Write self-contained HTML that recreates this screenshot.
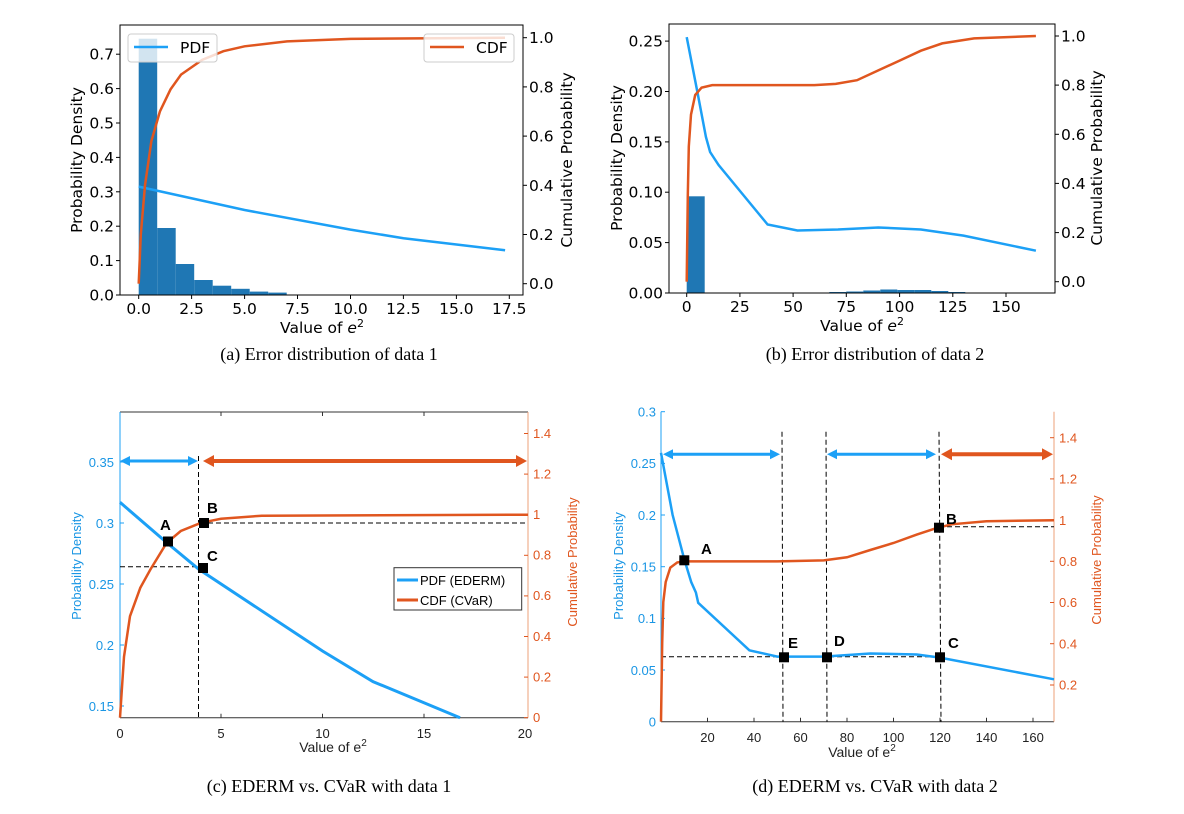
<!DOCTYPE html>
<html><head><meta charset="utf-8"><style>
body{margin:0;background:#fff;width:1184px;height:814px;overflow:hidden}
svg{position:absolute;left:0;top:0}
.m{font-family:"DejaVu Sans",sans-serif;font-size:15.5px;fill:#000}
.ml{font-family:"Liberation Sans",sans-serif;font-size:13px}
.cap{font-family:"Liberation Serif",serif;font-size:18px;fill:#000}
.lb{font-family:"Liberation Sans",sans-serif;font-size:15px;font-weight:bold;fill:#000}
</style></head><body>
<svg width="1184" height="814" viewBox="0 0 1184 814">
<!-- Panel a -->
<g fill="#1f77b4">
<rect x="138.7" y="38.7" width="18.5" height="256.3"/>
<rect x="157.2" y="228" width="18.5" height="67"/>
<rect x="175.7" y="264" width="18.5" height="31"/>
<rect x="194.2" y="280" width="18.5" height="15"/>
<rect x="212.7" y="285.7" width="18.5" height="9.3"/>
<rect x="231.2" y="288.8" width="18.5" height="6.2"/>
<rect x="249.7" y="291.6" width="18.5" height="3.4"/>
<rect x="268.2" y="292.6" width="18.5" height="2.4"/>
</g>
<polyline fill="none" stroke="#1ca0f6" stroke-width="2.5" points="138.7,186.6 244.6,210 350.5,229.6 403.5,238.2 505.1,250.3"/>
<polyline fill="none" stroke="#e0561f" stroke-width="2.5" points="138.7,283.7 140.8,234.5 145,185.3 151.4,141 159.9,111.5 170.5,89.4 181,74.6 202.2,59.8 223.4,51.2 244.6,46.3 287,41.4 350.5,38.9 505,37.7"/>
<rect x="128" y="34" width="89" height="28" rx="3" fill="#fff" fill-opacity="0.8" stroke="#ccc"/>
<line x1="134" y1="47" x2="168" y2="47" stroke="#1ca0f6" stroke-width="2.5"/>
<text class="m" x="180" y="53">PDF</text>
<rect x="424" y="34" width="90" height="28" rx="3" fill="#fff" fill-opacity="0.8" stroke="#ccc"/>
<line x1="430" y1="47" x2="464" y2="47" stroke="#e0561f" stroke-width="2.5"/>
<text class="m" x="476" y="53">CDF</text>
<rect x="120" y="25" width="403" height="270" fill="none" stroke="#000" stroke-width="1"/>
<g stroke="#000"><line x1="116" y1="295" x2="120" y2="295"/><line x1="116" y1="260.6" x2="120" y2="260.6"/><line x1="116" y1="226.2" x2="120" y2="226.2"/><line x1="116" y1="191.8" x2="120" y2="191.8"/><line x1="116" y1="157.4" x2="120" y2="157.4"/><line x1="116" y1="123" x2="120" y2="123"/><line x1="116" y1="88.6" x2="120" y2="88.6"/><line x1="116" y1="54.2" x2="120" y2="54.2"/>
<line x1="523" y1="283.7" x2="527" y2="283.7"/><line x1="523" y1="234.5" x2="527" y2="234.5"/><line x1="523" y1="185.3" x2="527" y2="185.3"/><line x1="523" y1="136.1" x2="527" y2="136.1"/><line x1="523" y1="86.9" x2="527" y2="86.9"/><line x1="523" y1="37.7" x2="527" y2="37.7"/></g>
<g class="m" text-anchor="end"><text x="114" y="300.5">0.0</text><text x="114" y="266">0.1</text><text x="114" y="231.7">0.2</text><text x="114" y="197.3">0.3</text><text x="114" y="163">0.4</text><text x="114" y="128.5">0.5</text><text x="114" y="94">0.6</text><text x="114" y="59.7">0.7</text></g>
<g class="m"><text x="529" y="289.2">0.0</text><text x="529" y="240">0.2</text><text x="529" y="190.8">0.4</text><text x="529" y="141.6">0.6</text><text x="529" y="92.4">0.8</text><text x="529" y="43.2">1.0</text></g>
<g stroke="#000"><line x1="138.7" y1="295" x2="138.7" y2="299"/><line x1="191.6" y1="295" x2="191.6" y2="299"/><line x1="244.6" y1="295" x2="244.6" y2="299"/><line x1="297.5" y1="295" x2="297.5" y2="299"/><line x1="350.5" y1="295" x2="350.5" y2="299"/><line x1="403.4" y1="295" x2="403.4" y2="299"/><line x1="456.4" y1="295" x2="456.4" y2="299"/><line x1="509.3" y1="295" x2="509.3" y2="299"/></g>
<g class="m" text-anchor="middle"><text x="138.7" y="314">0.0</text><text x="191.6" y="314">2.5</text><text x="244.6" y="314">5.0</text><text x="297.5" y="314">7.5</text><text x="350.5" y="314">10.0</text><text x="403.4" y="314">12.5</text><text x="456.4" y="314">15.0</text><text x="509.3" y="314">17.5</text>
<text x="322" y="333">Value of <tspan font-style="italic">e</tspan><tspan font-size="11" dy="-6">2</tspan></text></g>
<text class="m" text-anchor="middle" transform="translate(82,160) rotate(-90)">Probability Density</text>
<text class="m" text-anchor="middle" transform="translate(572,160) rotate(-90)">Cumulative Probability</text>
<text class="cap" x="329" y="360" text-anchor="middle">(a)  Error distribution of data 1</text>

<!-- Panel b -->
<g fill="#1f77b4">
<rect x="686.7" y="196.3" width="18" height="96.7"/>
<rect x="829.3" y="292" width="17" height="1"/><rect x="846.3" y="291.5" width="17" height="1.5"/><rect x="863.3" y="290.5" width="17" height="2.5"/><rect x="880.3" y="289.5" width="17" height="3.5"/><rect x="897.3" y="290" width="17" height="3"/><rect x="914.3" y="290" width="17" height="3"/><rect x="931.3" y="291" width="17" height="2"/><rect x="948.3" y="292" width="17" height="1"/>
</g>
<polyline fill="none" stroke="#1ca0f6" stroke-width="2.5" points="686.7,37.1 697.3,91.5 705.9,136.8 710.1,152 718.6,165 767.6,224.5 797.4,230.5 838,229.5 878.3,227.5 920.9,229.5 963.5,235.6 1035.9,250.7"/>
<polyline fill="none" stroke="#e0561f" stroke-width="2.5" points="686.7,281.7 687.8,195.7 688.8,146.6 691,114.6 695.2,95 701.6,87.6 712.2,85.1 814.4,85.1 835.7,83.9 857,80.2 878.3,70.4 899.6,60.6 920.9,50.7 942.2,43.4 974.1,38.4 1035.9,36"/>
<rect x="669" y="24" width="386" height="269" fill="none" stroke="#000"/>
<g stroke="#000"><line x1="665" y1="293" x2="669" y2="293"/><line x1="665" y1="242.6" x2="669" y2="242.6"/><line x1="665" y1="192.2" x2="669" y2="192.2"/><line x1="665" y1="141.9" x2="669" y2="141.9"/><line x1="665" y1="91.5" x2="669" y2="91.5"/><line x1="665" y1="41.1" x2="669" y2="41.1"/>
<line x1="1055" y1="281.7" x2="1059" y2="281.7"/><line x1="1055" y1="232.6" x2="1059" y2="232.6"/><line x1="1055" y1="183.4" x2="1059" y2="183.4"/><line x1="1055" y1="134.3" x2="1059" y2="134.3"/><line x1="1055" y1="85.1" x2="1059" y2="85.1"/><line x1="1055" y1="36" x2="1059" y2="36"/>
<line x1="686.7" y1="293" x2="686.7" y2="297"/><line x1="739.9" y1="293" x2="739.9" y2="297"/><line x1="793.1" y1="293" x2="793.1" y2="297"/><line x1="846.3" y1="293" x2="846.3" y2="297"/><line x1="899.6" y1="293" x2="899.6" y2="297"/><line x1="952.8" y1="293" x2="952.8" y2="297"/><line x1="1006" y1="293" x2="1006" y2="297"/></g>
<g class="m" text-anchor="end"><text x="663" y="298.5">0.00</text><text x="663" y="248">0.05</text><text x="663" y="197.7">0.10</text><text x="663" y="147.4">0.15</text><text x="663" y="97">0.20</text><text x="663" y="46.6">0.25</text></g>
<g class="m"><text x="1061" y="287.2">0.0</text><text x="1061" y="238">0.2</text><text x="1061" y="188.9">0.4</text><text x="1061" y="139.8">0.6</text><text x="1061" y="90.6">0.8</text><text x="1061" y="41.5">1.0</text></g>
<g class="m" text-anchor="middle"><text x="686.7" y="312">0</text><text x="739.9" y="312">25</text><text x="793.1" y="312">50</text><text x="846.3" y="312">75</text><text x="899.6" y="312">100</text><text x="952.8" y="312">125</text><text x="1006" y="312">150</text>
<text x="862" y="331">Value of <tspan font-style="italic">e</tspan><tspan font-size="11" dy="-6">2</tspan></text></g>
<text class="m" text-anchor="middle" transform="translate(622,158) rotate(-90)">Probability Density</text>
<text class="m" text-anchor="middle" transform="translate(1102,158) rotate(-90)">Cumulative Probability</text>
<text class="cap" x="875" y="360" text-anchor="middle">(b)  Error distribution of data 2</text>

<!-- Panel c -->
<line x1="120" y1="412" x2="528" y2="412" stroke="#333" stroke-width="1"/>
<line x1="120" y1="717.7" x2="528" y2="717.7" stroke="#333" stroke-width="1"/>
<line x1="120" y1="412" x2="120" y2="717.7" stroke="#1ca0f6" stroke-width="1"/>
<line x1="528" y1="412" x2="528" y2="717.7" stroke="#eea07a" stroke-width="1"/>
<g stroke="#333"><line x1="221" y1="412" x2="221" y2="416"/><line x1="322.5" y1="412" x2="322.5" y2="416"/><line x1="424" y1="412" x2="424" y2="416"/><line x1="221" y1="717.7" x2="221" y2="713.7"/><line x1="322.5" y1="717.7" x2="322.5" y2="713.7"/><line x1="424" y1="717.7" x2="424" y2="713.7"/></g>
<g stroke="#1ca0f6"><line x1="120" y1="462" x2="124" y2="462"/><line x1="120" y1="523" x2="124" y2="523"/><line x1="120" y1="584" x2="124" y2="584"/><line x1="120" y1="645" x2="124" y2="645"/><line x1="120" y1="706" x2="124" y2="706"/></g>
<g stroke="#e0561f"><line x1="524" y1="717.7" x2="528" y2="717.7"/><line x1="524" y1="677.1" x2="528" y2="677.1"/><line x1="524" y1="636.5" x2="528" y2="636.5"/><line x1="524" y1="595.9" x2="528" y2="595.9"/><line x1="524" y1="555.3" x2="528" y2="555.3"/><line x1="524" y1="514.7" x2="528" y2="514.7"/><line x1="524" y1="474.1" x2="528" y2="474.1"/><line x1="524" y1="433.5" x2="528" y2="433.5"/></g>
<g class="ml" fill="#1a96e4" text-anchor="end"><text x="114" y="467">0.35</text><text x="114" y="528">0.3</text><text x="114" y="589">0.25</text><text x="114" y="650">0.2</text><text x="114" y="711">0.15</text></g>
<g class="ml" fill="#e0561f"><text x="533" y="722">0</text><text x="533" y="681.5">0.2</text><text x="533" y="641">0.4</text><text x="533" y="600">0.6</text><text x="533" y="559.5">0.8</text><text x="533" y="519">1</text><text x="533" y="478.5">1.2</text><text x="533" y="438">1.4</text></g>
<g class="ml" fill="#222" text-anchor="middle"><text x="120" y="738">0</text><text x="221" y="738">5</text><text x="322.5" y="738">10</text><text x="424" y="738">15</text><text x="525" y="738">20</text>
<text x="333" y="752" font-size="14">Value of e<tspan font-size="10" dy="-6">2</tspan></text></g>
<text class="ml" fill="#1a96e4" font-size="14" text-anchor="middle" transform="translate(81,566) rotate(-90)">Probability Density</text>
<text class="ml" fill="#e0561f" font-size="14" text-anchor="middle" transform="translate(577,562) rotate(-90)">Cumulative Probability</text>
<g stroke="#000" stroke-dasharray="5,3" stroke-width="1"><line x1="198.5" y1="456" x2="198.5" y2="717"/><line x1="120" y1="566.7" x2="199" y2="566.7"/><line x1="200" y1="523" x2="528" y2="523"/></g>
<polyline fill="none" stroke="#1ca0f6" stroke-width="3" points="120,502.3 166.6,542.5 199,569.4 322.5,651 373,681.6 460,717.7"/>
<polyline fill="none" stroke="#e0561f" stroke-width="2.5" points="120,717.7 124,656.8 130,616.2 140.3,587.8 150.4,569.5 166.6,543 180.8,531 201,522.8 221,518.8 261.8,515.7 528,514.7"/>
<line x1="126" y1="461" x2="192" y2="461" stroke="#1ca0f6" stroke-width="3"/>
<polygon points="120,461 130,456 130,466" fill="#1ca0f6"/><polygon points="198,461 188,456 188,466" fill="#1ca0f6"/>
<line x1="210" y1="461" x2="520" y2="461" stroke="#e0561f" stroke-width="4"/>
<polygon points="203,461 214,455 214,467" fill="#e0561f"/><polygon points="527,461 516,455 516,467" fill="#e0561f"/>
<g fill="#000"><rect x="163" y="536.5" width="10" height="10"/><rect x="199" y="518" width="10" height="10"/><rect x="198" y="563" width="10" height="10"/></g>
<text class="lb" x="160" y="530">A</text><text class="lb" x="207" y="513">B</text><text class="lb" x="207" y="561">C</text>
<rect x="394" y="567.7" width="127.7" height="42.3" fill="#fff" stroke="#333"/>
<line x1="397" y1="580" x2="418" y2="580" stroke="#1ca0f6" stroke-width="3"/>
<line x1="397" y1="600" x2="418" y2="600" stroke="#e0561f" stroke-width="3"/>
<g class="ml" font-size="14" fill="#000"><text x="420" y="585">PDF (EDERM)</text><text x="420" y="605">CDF (CVaR)</text></g>
<text class="cap" x="329" y="792" text-anchor="middle">(c)  EDERM vs. CVaR with data 1</text>

<!-- Panel d -->
<line x1="661" y1="721.7" x2="1054" y2="721.7" stroke="#333"/>
<line x1="661" y1="411.7" x2="661" y2="721.7" stroke="#1ca0f6"/>
<line x1="1054" y1="411.7" x2="1054" y2="721.7" stroke="#eea07a"/>
<g stroke="#333"><line x1="707.5" y1="721.7" x2="707.5" y2="717.7"/><line x1="754" y1="721.7" x2="754" y2="717.7"/><line x1="800.5" y1="721.7" x2="800.5" y2="717.7"/><line x1="847" y1="721.7" x2="847" y2="717.7"/><line x1="893.5" y1="721.7" x2="893.5" y2="717.7"/><line x1="940" y1="721.7" x2="940" y2="717.7"/><line x1="986.5" y1="721.7" x2="986.5" y2="717.7"/><line x1="1033" y1="721.7" x2="1033" y2="717.7"/></g>
<g stroke="#1ca0f6"><line x1="661" y1="411.7" x2="665" y2="411.7"/><line x1="661" y1="463.4" x2="665" y2="463.4"/><line x1="661" y1="515" x2="665" y2="515"/><line x1="661" y1="566.7" x2="665" y2="566.7"/><line x1="661" y1="618.4" x2="665" y2="618.4"/><line x1="661" y1="670" x2="665" y2="670"/></g>
<g stroke="#e0561f"><line x1="1050" y1="437.7" x2="1054" y2="437.7"/><line x1="1050" y1="478.9" x2="1054" y2="478.9"/><line x1="1050" y1="520.1" x2="1054" y2="520.1"/><line x1="1050" y1="561.3" x2="1054" y2="561.3"/><line x1="1050" y1="602.5" x2="1054" y2="602.5"/><line x1="1050" y1="643.7" x2="1054" y2="643.7"/><line x1="1050" y1="685" x2="1054" y2="685"/></g>
<g class="ml" fill="#1a96e4" text-anchor="end"><text x="656" y="416.5">0.3</text><text x="656" y="468">0.25</text><text x="656" y="520">0.2</text><text x="656" y="571.5">0.15</text><text x="656" y="623">0.1</text><text x="656" y="675">0.05</text><text x="656" y="726.5">0</text></g>
<g class="ml" fill="#e0561f"><text x="1059" y="442.5">1.4</text><text x="1059" y="483.5">1.2</text><text x="1059" y="525">1</text><text x="1059" y="566">0.8</text><text x="1059" y="607">0.6</text><text x="1059" y="648.5">0.4</text><text x="1059" y="689.5">0.2</text></g>
<g class="ml" fill="#222" text-anchor="middle"><text x="707.5" y="742">20</text><text x="754" y="742">40</text><text x="800.5" y="742">60</text><text x="847" y="742">80</text><text x="893.5" y="742">100</text><text x="940" y="742">120</text><text x="986.5" y="742">140</text><text x="1033" y="742">160</text>
<text x="862" y="757" font-size="14">Value of e<tspan font-size="10" dy="-6">2</tspan></text></g>
<text class="ml" fill="#1a96e4" font-size="14" text-anchor="middle" transform="translate(623,566) rotate(-90)">Probability Density</text>
<text class="ml" fill="#e0561f" font-size="14" text-anchor="middle" transform="translate(1101,560) rotate(-90)">Cumulative Probability</text>
<g stroke="#000" stroke-dasharray="5,3"><line x1="782" y1="431.7" x2="783" y2="721.7"/><line x1="826" y1="431.7" x2="827" y2="721.7"/><line x1="939" y1="431.7" x2="941" y2="721.7"/><line x1="661" y1="656.7" x2="940" y2="656.7"/><line x1="939" y1="526.7" x2="1054" y2="526.7"/></g>
<polyline fill="none" stroke="#1ca0f6" stroke-width="2.5" points="661,452.9 672.6,514.9 684.3,559.4 691.2,582 695.9,592.5 698.2,602.8 749.4,650.3 777.3,656.6 823.8,656.6 870.3,653.5 916.8,654.5 940,657.6 1054,679.3"/>
<polyline fill="none" stroke="#e0561f" stroke-width="2.5" points="661,721.7 662.2,643 663.3,602 665.7,582 670.3,567.6 677.3,562.4 684.3,561.4 777.3,561.4 823.8,560.4 847,557.3 870.3,550 893.5,543 916.8,534.6 935.4,528.4 951.6,524.3 986.5,521.2 1054,520.2"/>
<line x1="669" y1="454.3" x2="774" y2="454.3" stroke="#1ca0f6" stroke-width="3"/>
<polygon points="663,454.3 673,449.3 673,459.3" fill="#1ca0f6"/><polygon points="780,454.3 770,449.3 770,459.3" fill="#1ca0f6"/>
<line x1="833" y1="454.3" x2="930" y2="454.3" stroke="#1ca0f6" stroke-width="3"/>
<polygon points="827,454.3 837,449.3 837,459.3" fill="#1ca0f6"/><polygon points="936,454.3 926,449.3 926,459.3" fill="#1ca0f6"/>
<line x1="948" y1="454.3" x2="1046" y2="454.3" stroke="#e0561f" stroke-width="4"/>
<polygon points="941,454.3 952,448.3 952,460.3" fill="#e0561f"/><polygon points="1053,454.3 1042,448.3 1042,460.3" fill="#e0561f"/>
<g fill="#000"><rect x="679.3" y="555.3" width="10" height="10"/><rect x="934" y="522.7" width="10" height="10"/><rect x="935" y="652.3" width="10" height="10"/><rect x="822" y="652.3" width="10" height="10"/><rect x="779" y="652.3" width="10" height="10"/></g>
<text class="lb" x="701" y="554">A</text><text class="lb" x="946" y="524">B</text><text class="lb" x="948" y="648">C</text><text class="lb" x="834" y="646">D</text><text class="lb" x="788" y="648">E</text>
<text class="cap" x="875" y="792" text-anchor="middle">(d)  EDERM vs. CVaR with data 2</text>
</svg>
</body></html>
